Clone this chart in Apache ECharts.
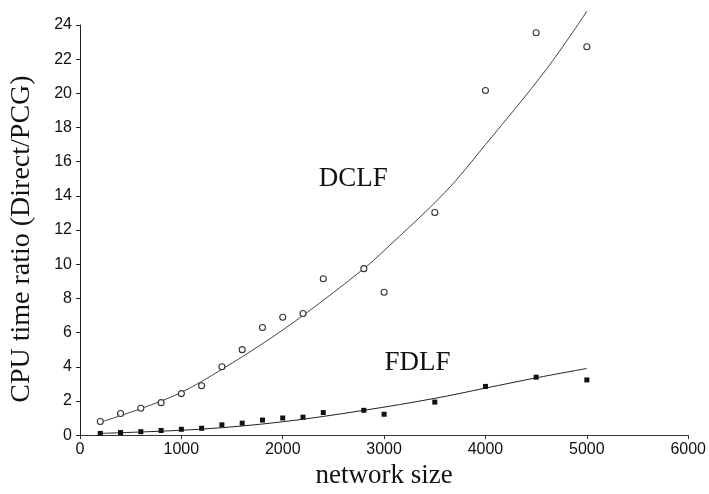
<!DOCTYPE html>
<html>
<head>
<meta charset="utf-8">
<script src="https://cdn.jsdelivr.net/npm/echarts@6/dist/echarts.min.js"></script>
<style>
  html, body { margin: 0; padding: 0; background: #fff; }
  #chart { width: 709px; height: 494px; }
</style>
</head>
<body>
<div id="chart"></div>
<script>
// Network sizes where both solvers were timed
const networkSizes = [200, 400, 600, 800, 1000, 1200, 1400, 1600, 1800, 2000, 2200, 2400, 2800, 3000, 3500, 4000, 4500, 5000];
// Measured CPU time ratios (Direct / PCG)
const dclfRatio = [0.8, 1.26, 1.57, 1.9, 2.43, 2.89, 4.0, 5.0, 6.3, 6.9, 7.12, 9.15, 9.74, 8.36, 13.03, 20.17, 23.55, 22.73];
const fdlfRatio = [0.1, 0.15, 0.2, 0.27, 0.34, 0.4, 0.6, 0.7, 0.88, 1.0, 1.05, 1.32, 1.45, 1.22, 1.93, 2.85, 3.39, 3.23];

// Trend curves through the measurements
const dclfTrendX = [200, 600, 1000, 1400, 1800, 2200, 2800, 3000, 3600, 4000, 4600, 5000];
const dclfTrendY = [0.75, 1.55, 2.5, 3.85, 5.35, 7.0, 9.74, 10.8, 14.2, 17.0, 21.4, 24.8];
const fdlfTrendX = [200, 1200, 2000, 2800, 3500, 4000, 4500, 5000];
const fdlfTrendY = [0.1, 0.35, 0.78, 1.45, 2.15, 2.75, 3.35, 3.9];

// Tick settings
const xTicks = { min: 0, max: 6000, step: 1000 };
const yTicks = { min: 0, max: 24, step: 2 };

// Curve labels: text and anchor in data units
const curveLabelText = ['DCLF', 'FDLF'];
const curveLabelX = [2695, 3330];
const curveLabelY = [15.0, 4.2];

const zip = (xs, ys) => xs.map((x, i) => [x, ys[i]]);

const serif = 'Liberation Serif';
const sans = 'Liberation Sans';
const ink = '#111';

const chart = echarts.init(document.getElementById('chart'), null, { renderer: 'canvas' });

chart.setOption({
  animation: false,
  backgroundColor: '#ffffff',
  grid: { left: 79, right: 20, top: 25, bottom: 51, containLabel: false },
  xAxis: {
    type: 'value',
    min: xTicks.min, max: xTicks.max, interval: xTicks.step,
    name: 'network size',
    nameLocation: 'middle',
    nameGap: 26,
    nameTextStyle: { fontFamily: serif, fontSize: 27, color: ink },
    axisLine: { lineStyle: { color: '#333', width: 1 } },
    axisTick: { length: 4, lineStyle: { color: '#333' } },
    axisLabel: { fontFamily: sans, fontSize: 16, color: ink, margin: 6, formatter: v => String(v) },
    splitLine: { show: false }
  },
  yAxis: {
    type: 'value',
    min: yTicks.min, max: yTicks.max, interval: yTicks.step,
    name: 'CPU time ratio (Direct/PCG)',
    nameLocation: 'middle',
    nameGap: 44,
    nameRotate: 90,
    nameTextStyle: { fontFamily: serif, fontSize: 28, color: ink, padding: [0, 18, 0, 0] },
    axisLine: { show: true, lineStyle: { color: '#222', width: 1 } },
    axisTick: { show: true, length: 4, lineStyle: { color: '#222' } },
    axisLabel: { fontFamily: sans, fontSize: 16, color: ink, margin: 8 },
    splitLine: { show: false }
  },
  series: [
    {
      name: 'DCLF trend',
      type: 'line',
      data: zip(dclfTrendX, dclfTrendY),
      smooth: 0.35,
      showSymbol: false,
      clip: false,
      lineStyle: { color: '#444', width: 1 },
      silent: true,
      z: 2
    },
    {
      name: 'FDLF trend',
      type: 'line',
      data: zip(fdlfTrendX, fdlfTrendY),
      smooth: 0.35,
      showSymbol: false,
      clip: false,
      lineStyle: { color: '#222', width: 1 },
      silent: true,
      z: 2
    },
    {
      name: 'DCLF',
      type: 'scatter',
      data: zip(networkSizes, dclfRatio),
      symbol: 'circle',
      symbolSize: 6,
      clip: false,
      itemStyle: { color: '#fff', borderColor: '#333', borderWidth: 1.1, opacity: 1 },
      z: 3
    },
    {
      name: 'FDLF',
      type: 'scatter',
      data: zip(networkSizes, fdlfRatio),
      symbol: 'rect',
      symbolSize: 5,
      itemStyle: { color: '#111', opacity: 1 },
      z: 3
    },
    {
      name: 'curve names',
      type: 'scatter',
      data: curveLabelText.map((t, i) => ({ name: t, value: [curveLabelX[i], curveLabelY[i]] })),
      symbolSize: 0,
      silent: true,
      itemStyle: { opacity: 1 },
      label: {
        show: true,
        position: 'inside',
        formatter: p => p.name,
        fontFamily: serif,
        fontSize: 27,
        color: ink
      },
      z: 4
    }
  ]
});
</script>
</body>
</html>
